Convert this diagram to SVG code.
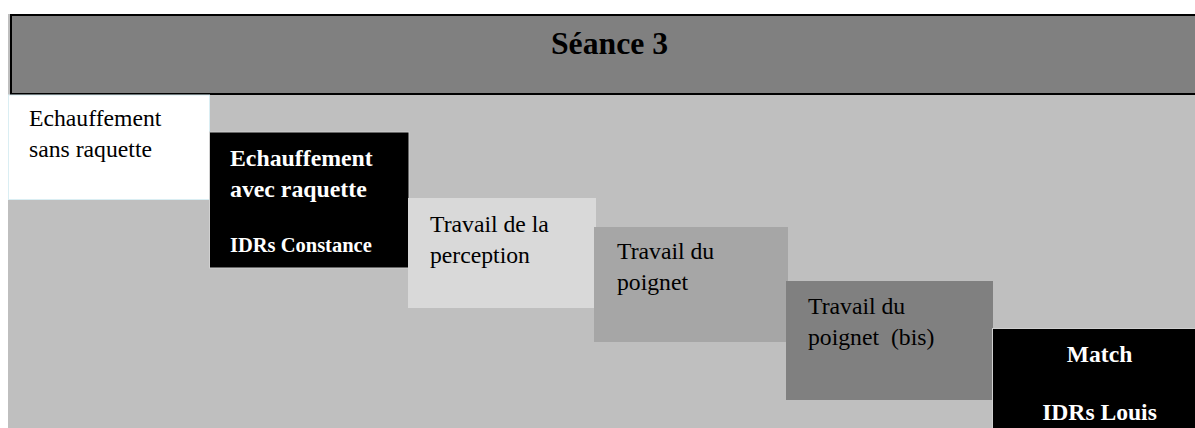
<svg xmlns="http://www.w3.org/2000/svg" width="1195" height="428" viewBox="0 0 1195 428">
<style>
.t{font-family:'Liberation Serif',serif;font-size:23.7px;font-weight:normal;fill:#000}
.b{font-family:'Liberation Serif',serif;font-weight:bold;fill:#fff}
</style>
<rect x="0" y="0" width="1195" height="428" fill="#fff"/>
<rect id="background" x="8" y="14" width="1187" height="414" fill="#bfbfbf"/>
<g id="header">
<rect x="11" y="15" width="1190" height="79" fill="#808080" stroke="#000" stroke-width="2"/>
<text x="551" y="54" font-family="Liberation Serif, serif" font-weight="bold" font-size="31.7" fill="#000">Séance 3</text>
</g>
<g id="step1">
<rect x="8.5" y="95" width="201" height="104.5" fill="#fff" stroke="#daeef3" stroke-width="1"/>
<text class="t" x="29" y="126" font-family="Liberation Serif">Echauffement</text>
<text class="t" x="29" y="157" font-family="Liberation Serif">sans raquette</text>
</g>
<g id="step2">
<rect x="209.5" y="132" width="199.5" height="136" fill="#000" stroke="#d0d0d0" stroke-width="1"/>
<text class="b" x="230" y="166" font-size="23.8">Echauffement</text>
<text class="b" x="230" y="197" font-size="23.8">avec raquette</text>
<text class="b" x="230" y="252" font-size="20.5">IDRs Constance</text>
</g>
<g id="step3">
<rect x="408" y="198" width="188" height="110" fill="#d9d9d9"/>
<text class="t" x="430" y="232">Travail de la</text>
<text class="t" x="430" y="263">perception</text>
</g>
<g id="step4">
<rect x="594" y="227" width="194" height="115" fill="#a6a6a6"/>
<text class="t" x="617" y="259">Travail du</text>
<text class="t" x="617" y="290">poignet</text>
</g>
<g id="step5">
<rect x="786" y="281" width="207" height="119" fill="#808080"/>
<text class="t" x="808" y="314">Travail du</text>
<text class="t" x="808" y="345" xml:space="preserve">poignet  (bis)</text>
</g>
<g id="step6">
<rect x="992.5" y="328.5" width="210" height="110" fill="#000" stroke="#d0d0d0" stroke-width="1"/>
<text class="b" x="1099.5" y="362" font-size="23.6" text-anchor="middle">Match</text>
<text class="b" x="1099.5" y="420" font-size="23.6" text-anchor="middle">IDRs Louis</text>
</g>
<g id="connectors"></g>
</svg>
